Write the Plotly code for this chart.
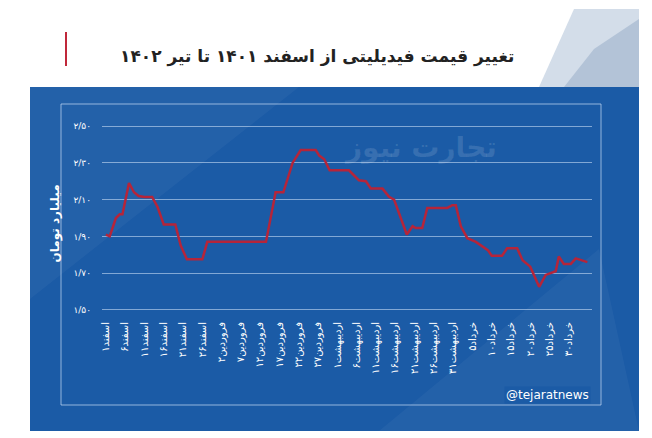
import plotly.graph_objects as go

day_idx = [0,1,2.6,3.6,4.3,6,7.3,8.5,10,12,13.4,15,18,19.4,21,25,26.3,41.5,44,46,48.4,50.5,54.4,55.3,56.6,58,63,65.6,67.4,68.7,71.7,73.4,74.7,78,79.5,80.3,82,83.3,88.5,89.8,90.7,92,93.7,95.9,99,100,102.7,104,106.6,108,110,112.3,114,116.6,117.4,118.7,120.5,121.8,124.8]
price = [1.91,1.90,2.00,2.02,2.02,2.19,2.14,2.12,2.115,2.115,2.06,1.965,1.965,1.85,1.775,1.775,1.87,1.87,2.14,2.14,2.30,2.37,2.37,2.34,2.32,2.26,2.26,2.205,2.20,2.16,2.16,2.115,2.10,1.91,1.955,1.945,1.945,2.055,2.055,2.07,2.07,1.955,1.89,1.87,1.825,1.795,1.795,1.835,1.835,1.77,1.735,1.625,1.69,1.71,1.79,1.75,1.75,1.78,1.76]

tick_pos = list(range(0, 121, 5))
tick_text = ["اسفند۱","اسفند۶","اسفند۱۱","اسفند۱۶","اسفند۲۱","اسفند۲۶",
             "فروردین۲","فروردین۷","فروردین۱۲","فروردین۱۷","فروردین۲۲","فروردین۲۷",
             "اردیبهشت۱","اردیبهشت۶","اردیبهشت۱۱","اردیبهشت۱۶","اردیبهشت۲۱","اردیبهشت۲۶","اردیبهشت۳۱",
             "خرداد۵","خرداد۱۰","خرداد۱۵","خرداد۲۰","خرداد۲۵","خرداد۳۰"]
y_ticks = [1.5, 1.7, 1.9, 2.1, 2.3, 2.5]
y_text = ["۱/۵۰","۱/۷۰","۱/۹۰","۲/۱۰","۲/۳۰","۲/۵۰"]

F = "DejaVu Sans"
fig = go.Figure()
fig.add_trace(go.Scatter(x=day_idx, y=price, mode="lines",
                         line=dict(color="#b5253a", width=2.5), hoverinfo="skip"))

# screen coords -> paper (plot area on screen: x 103..593, y 118..320)
def X(x): return (x-103)/490
def Y(y): return (320-y)/202
shapes = []
def px(x0, y0, x1, y1, **kw):
    d = dict(type="rect", xref="paper", yref="paper", x0=X(x0), x1=X(x1), y0=Y(y1), y1=Y(y0), layer="below")
    d.update(kw)
    return d
def ppath(pts, **kw):
    s = "M " + " L ".join(f"{X(x)} {Y(y)}" for x, y in pts) + " Z"
    d = dict(type="path", xref="paper", yref="paper", path=s, layer="below", line_width=0)
    d.update(kw)
    return d

shapes.append(ppath([(575,10),(640,10),(640,88),(540,88)], fillcolor="#d3dde9"))
shapes.append(ppath([(595,50),(640,20),(640,88),(565,88)], fillcolor="#b3c3d7"))
shapes.append(px(31, 88, 640, 432, fillcolor="#1b5ba6", line_width=0))
shapes.append(ppath([(31,88),(300,88),(31,300)], fillcolor="rgba(255,255,255,0.04)"))
shapes.append(ppath([(380,432),(600,250),(640,432)], fillcolor="rgba(255,255,255,0.04)"))
shapes.append(px(62, 105, 602, 406, fillcolor="rgba(0,0,0,0)", line=dict(color="rgba(200,220,245,0.7)", width=1)))
shapes.append(px(66, 33, 68, 67, fillcolor="#c0283a", line_width=0))

OFF = 9  # page offset
fig.update_layout(
    width=652, height=438, paper_bgcolor="white", plot_bgcolor="rgba(0,0,0,0)",
    margin=dict(l=103-OFF, r=652-593+OFF, t=118-OFF, b=438-320+OFF, autoexpand=False),
    showlegend=False, shapes=shapes,
    font=dict(family=F, color="white"),
    xaxis=dict(range=[-1, 126], tickmode="array", tickvals=tick_pos, ticktext=tick_text,
               tickangle=-90, tickfont=dict(size=10, color="white"), showgrid=False,
               zeroline=False, showline=False, ticks=""),
    yaxis=dict(range=[1.45, 2.55], tickmode="array", tickvals=y_ticks, ticktext=y_text,
               tickfont=dict(size=9, color="white"), gridcolor="rgba(200,220,245,0.6)",
               gridwidth=1, zeroline=False, showline=False, ticks="", ticklabelstandoff=10),
    annotations=[
        dict(text="<b>تغییر قیمت فیدیلیتی از اسفند ۱۴۰۱ تا تیر ۱۴۰۲</b>", x=X(318), y=Y(45),
             xref="paper", yref="paper", showarrow=False, font=dict(size=17, color="#222", family=F)),
        dict(text="<b>میلیارد تومان</b>", textangle=-90, x=X(46), y=Y(225),
             xref="paper", yref="paper", showarrow=False, font=dict(size=12, color="white", family=F)),
        dict(text="<b>تجارت نیوز</b>", x=X(500), y=Y(130), xref="paper", yref="paper",
             showarrow=False, font=dict(size=28, color="rgba(255,255,255,0.12)", family=F)),
        dict(text="@tejaratnews", x=X(592), y=Y(405), xref="paper", yref="paper",
             xanchor="right", showarrow=False, bgcolor="#1b5ba6", font=dict(size=12, color="white", family=F)),
    ],
)
fig.write_html("out.html")
